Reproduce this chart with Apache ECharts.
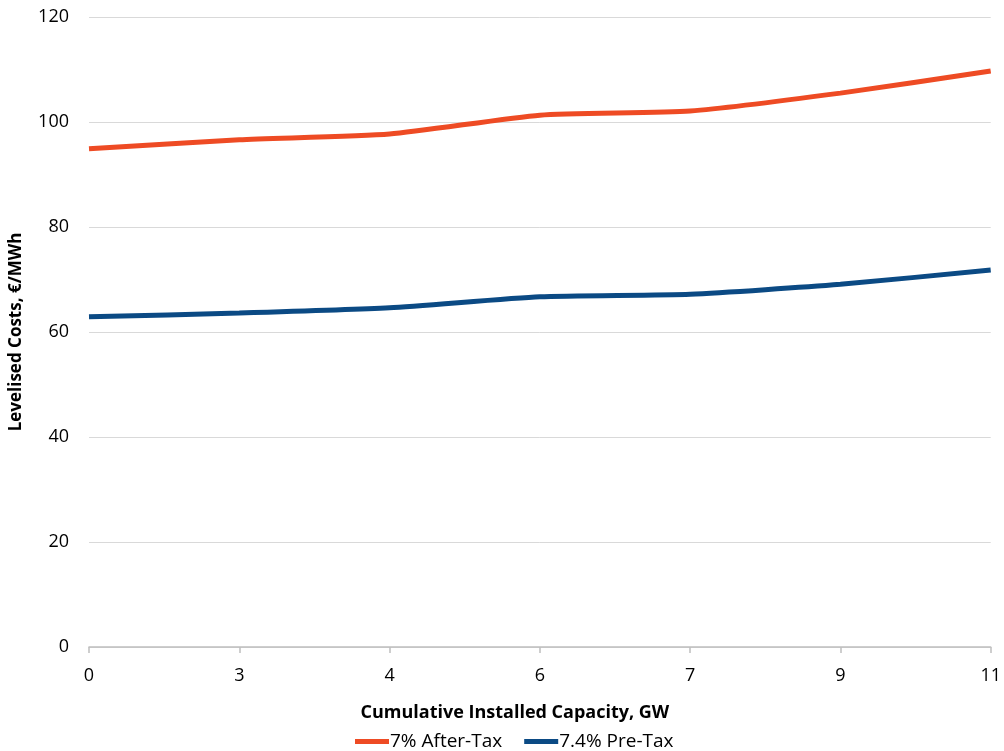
<!DOCTYPE html>
<html><head><meta charset="utf-8">
<script src="https://cdn.jsdelivr.net/npm/echarts@6/dist/echarts.min.js"></script>
<style>html,body{margin:0;padding:0;background:#fff}#c{width:1004px;height:751px}</style>
</head><body><div id="c"></div>
<script>
const categories = ['0','3','4','6','7','9','11'];
const afterTax = [94.9, 96.6, 97.7, 101.3, 102.1, 105.5, 109.7];
const preTax = [62.9, 63.6, 64.6, 66.7, 67.2, 69.1, 71.8];
const seriesNames = ['7% After-Tax', '7.4% Pre-Tax'];
const font = '"Open Sans", Lato, sans-serif';
const chart = echarts.init(document.getElementById('c'));
chart.setOption({
  animation: false,
  textStyle: {fontFamily: font},
  grid: {left: 89, right: 12, top: 17, bottom: 104, containLabel: false},
  legend: {
    top: 727, left: 350, itemWidth: 34, itemHeight: 5, itemGap: 22,
    textStyle: {fontSize: 19, color: '#000', fontFamily: font, padding: [0, 0, 0, -4]},
    icon: 'rect',
    data: seriesNames
  },
  xAxis: {
    type: 'category', data: categories, boundaryGap: false,
    name: 'Cumulative Installed Capacity, GW', nameLocation: 'middle', nameGap: 57,
    nameTextStyle: {fontSize: 18, fontWeight: 'bold', color: '#000', fontFamily: font, padding: [0, 50, 0, 0]},
    axisLine: {lineStyle: {color: '#bfbfbf', width: 1.5}},
    axisTick: {show: true, length: 6, lineStyle: {color: '#bfbfbf', width: 1.5}},
    axisLabel: {fontSize: 18, color: '#000', margin: 20, fontFamily: font}
  },
  yAxis: {
    type: 'value', min: 0, max: 120, interval: 20,
    name: 'Levelised Costs, €/MWh', nameLocation: 'middle', nameGap: 64,
    nameTextStyle: {fontSize: 17, fontWeight: 'bold', color: '#000', fontFamily: font},
    axisLine: {show: false}, axisTick: {show: false},
    axisLabel: {fontSize: 18, color: '#000', margin: 20, fontFamily: font},
    splitLine: {lineStyle: {color: '#d9d9d9', width: 1}}
  },
  series: [
    {name: seriesNames[0], type: 'line', data: afterTax, smooth: 0.2, symbol: 'none',
     lineStyle: {color: '#EE4B24', width: 5}, itemStyle: {color: '#EE4B24'}},
    {name: seriesNames[1], type: 'line', data: preTax, smooth: 0.2, symbol: 'none',
     lineStyle: {color: '#0B4A84', width: 5}, itemStyle: {color: '#0B4A84'}}
  ]
});
</script></body></html>
